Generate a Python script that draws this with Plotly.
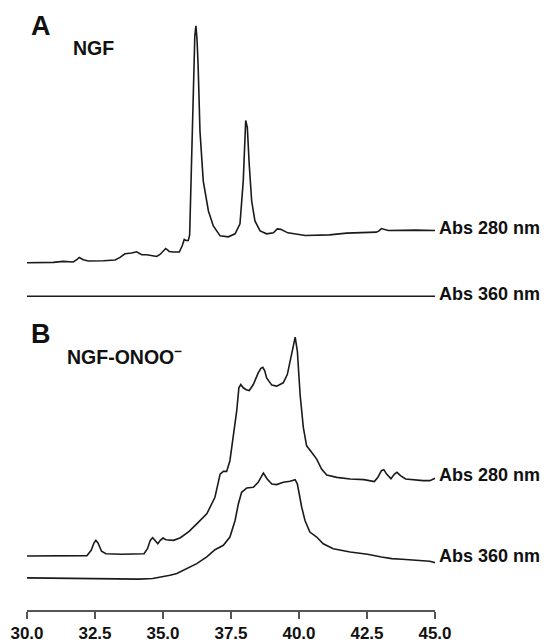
import plotly.graph_objects as go

# ---------------- data (retention time in min, signal in arbitrary units) ----------------
a280_t = [30.00, 30.97, 31.33, 31.70, 31.83, 31.92, 32.07, 32.25, 32.81, 33.24, 33.42, 33.60,
          33.85, 34.03, 34.22, 34.40, 34.77, 34.89, 35.10, 35.23, 35.38, 35.60, 35.71, 35.78,
          35.85, 35.93, 35.98, 36.05, 36.11, 36.17, 36.21, 36.25, 36.29, 36.36, 36.48, 36.67,
          36.85, 37.10, 37.40, 37.65, 37.83, 37.95, 38.04, 38.10, 38.17, 38.26, 38.38, 38.57,
          38.81, 39.06, 39.20, 39.33, 39.59, 40.23, 41.12, 41.75, 42.84, 42.93, 43.03, 43.15,
          43.28, 44.30, 45.00]
a280_v = [0.0, 0.3, 1.3, 0.7, 3.0, 5.3, 3.0, 1.7, 2.0, 2.7, 5.3, 9.0,
          9.7, 11.0, 8.0, 8.0, 6.3, 8.3, 14.3, 11.3, 10.7, 10.7, 17.3, 23.3,
          22.3, 22.3, 28.0, 110.0, 182.0, 228.0, 238.0, 225.0, 199.0, 132.0, 82.0, 52.0,
          37.0, 27.0, 26.0, 29.0, 39.0, 82.0, 143.0, 136.0, 99.0, 62.0, 42.0, 32.0,
          29.0, 30.0, 34.0, 33.5, 30.0, 27.3, 28.0, 29.7, 30.7, 31.7, 34.3, 33.3,
          32.3, 32.7, 32.3]

a360_t = [30.0, 33.0, 36.0, 39.0, 42.0, 45.0]
a360_v = [0.0, 0.0, 0.0, 0.0, 0.0, 0.0]

b280_t = [30.00, 31.57, 32.20, 32.36, 32.46, 32.53, 32.61, 32.74, 32.90, 33.48, 34.30, 34.43,
          34.53, 34.62, 34.71, 34.81, 34.90, 35.00, 35.11, 35.26, 35.39, 35.64, 35.96, 36.24,
          36.61, 36.91, 37.10, 37.22, 37.34, 37.46, 37.58, 37.71, 37.79, 37.86, 37.95, 38.06,
          38.17, 38.32, 38.50, 38.60, 38.67, 38.74, 38.81, 39.00, 39.18, 39.42, 39.57, 39.69,
          39.79, 39.86, 39.94, 40.04, 40.16, 40.28, 40.47, 40.65, 40.83, 41.02, 41.39, 41.88,
          42.39, 42.77, 42.90, 43.03, 43.12, 43.22, 43.38, 43.51, 43.60, 43.73, 43.92, 44.11,
          44.56, 44.81, 45.00]
b280_v = [0.0, -0.3, 0.3, 5.7, 13.0, 15.7, 13.0, 4.7, 2.3, 1.7, 2.3, 7.3,
          15.7, 18.3, 15.0, 12.3, 15.7, 18.0, 16.3, 15.7, 15.7, 18.3, 24.7, 32.3,
          42.3, 59.0, 82.3, 85.0, 85.0, 95.7, 119.0, 145.7, 169.0, 172.3, 169.0, 167.0,
          166.3, 172.3, 184.0, 188.5, 189.5, 186.0, 179.0, 171.7, 170.7, 174.0, 182.3, 199.0,
          214.0, 220.0, 205.7, 162.3, 129.0, 110.7, 104.0, 97.3, 87.3, 81.3, 79.0, 77.3,
          76.7, 74.7, 79.0, 85.7, 86.7, 82.3, 77.7, 82.3, 84.0, 80.7, 77.3, 76.7,
          75.7, 75.7, 78.0]

b360_t = [30.00, 31.57, 32.84, 34.11, 34.62, 35.13, 35.26, 35.51, 35.75, 36.24, 36.61, 36.91,
          37.22, 37.46, 37.65, 37.77, 37.89, 38.08, 38.32, 38.50, 38.69, 38.83, 39.00, 39.18,
          39.42, 39.67, 39.86, 39.94, 40.10, 40.22, 40.40, 40.65, 40.89, 41.26, 41.88, 42.52,
          43.03, 43.41, 43.79, 44.30, 44.81, 45.00]
b360_v = [0.0, -0.7, -1.3, -1.3, -0.7, 1.5, 2.7, 4.3, 7.7, 14.3, 21.0, 28.3,
          32.7, 41.0, 57.7, 74.3, 86.0, 90.3, 91.0, 96.0, 105.3, 99.3, 94.3, 93.7,
          96.0, 97.0, 98.7, 94.3, 71.0, 57.7, 46.0, 41.0, 34.3, 29.3, 26.0, 23.7,
          21.0, 19.3, 18.7, 17.7, 16.7, 15.3]

# vertical stacking offsets of each chromatogram
offsets = {"a280": 349.0, "a360": 315.3, "b280": 54.3, "b360": 32.3}

tick_vals = [30.0, 32.5, 35.0, 37.5, 40.0, 42.5, 45.0]
tick_text = ["30.0", "32.5", "35.0", "37.5", "40.0", "42.5", "45.0"]

FONT = "Liberation Sans, Arial, Helvetica, sans-serif"

fig = go.Figure()
series = [
    ("a280", a280_t, a280_v),
    ("a360", a360_t, a360_v),
    ("b280", b280_t, b280_v),
    ("b360", b360_t, b360_v),
]
for key, t, v in series:
    fig.add_trace(go.Scatter(
        x=t, y=[val + offsets[key] for val in v], mode="lines",
        line=dict(color="#1a1a1a", width=1.6), showlegend=False, hoverinfo="skip"))

ann = []
def label(text, x, y, size, xanchor="left", xref="x", xshift=0):
    ann.append(dict(text=text, x=x, y=y, xref=xref, yref="y", xanchor=xanchor,
                    yanchor="middle", showarrow=False, xshift=xshift,
                    font=dict(family=FONT, size=size, color="#111", weight="bold")))

label("A", 30.51, 587, 27, xanchor="center")
label("NGF", 31.62, 565, 19.5)
label("B", 30.51, 277, 27, xanchor="center")
label("NGF-ONOO<sup>−</sup>", 31.38, 255, 19.5)
label("Abs 280 nm", 1.0, 384, 18, xref="paper", xshift=2)
label("Abs 360 nm", 1.0, 318, 18, xref="paper", xshift=2)
label("Abs 280 nm", 1.0, 136, 18, xref="paper", xshift=2)
label("Abs 360 nm", 1.0, 54, 18, xref="paper", xshift=2)

fig.update_layout(
    width=544, height=643,
    margin=dict(l=27, r=109, t=0, b=30),
    paper_bgcolor="white", plot_bgcolor="white",
    annotations=ann,
    xaxis=dict(range=[30, 45], showgrid=False, zeroline=False, showline=True,
               linecolor="#555", linewidth=1.5, ticks="outside", ticklen=7,
               tickcolor="#555", tickwidth=1.5, tickvals=tick_vals, ticktext=tick_text,
               tickfont=dict(family=FONT, size=17, color="#111", weight="bold")),
    yaxis=dict(range=[0, 613], visible=False),
)

fig.write_html("out.html", config={"displayModeBar": False},
               post_script="document.body.style.margin='0';")
